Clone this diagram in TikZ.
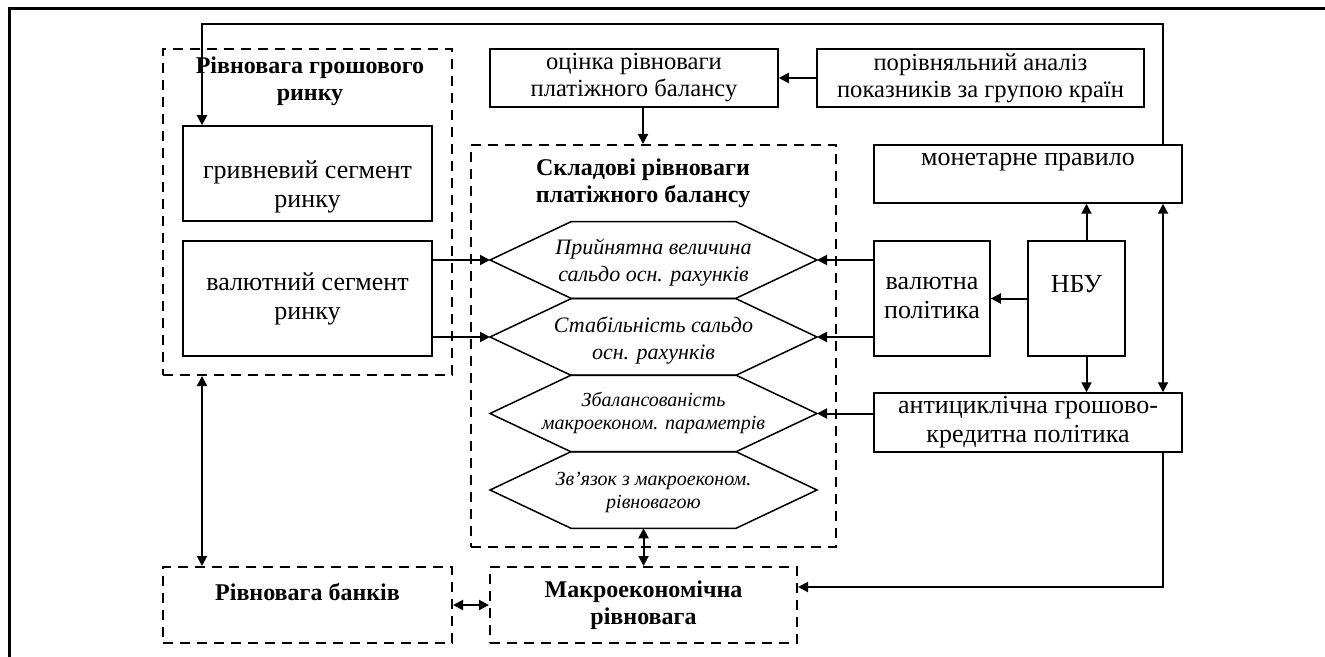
\documentclass[tikz,border=0pt]{standalone}
\usepackage{fontspec}
\setmainfont{Liberation Serif}
\usepackage{tikz}
\usetikzlibrary{arrows.meta,positioning}

\tikzset{
  box/.style={draw,line width=0.75pt,align=center,inner sep=0pt,font=\fontsize{12.3}{13.5}\selectfont},
  bigbox/.style={box,font=\fontsize{13}{14.5}\selectfont},
  bigtxt/.style={align=center,inner sep=0pt,font=\fontsize{13}{14.5}\selectfont},
  dbox/.style={draw,line width=1pt,dash pattern=on 5pt off 3.5pt,inner sep=0pt,align=center,font=\bfseries\fontsize{12}{13.5}\selectfont},
  ttl/.style={align=center,font=\bfseries\fontsize{12}{13.5}\selectfont},
  hx/.style={align=center,font=\itshape\fontsize{11}{13.5}\selectfont},
  hxs/.style={align=center,font=\itshape\fontsize{10}{11.5}\selectfont},
  arr/.style={line width=1pt,-{Triangle[length=5pt,width=5pt]}},
  darr/.style={line width=1pt,{Triangle[length=5pt,width=5pt]}-{Triangle[length=5pt,width=5pt]}}
}

\begin{document}
\begin{tikzpicture}[x=0.5pt,y=-0.5pt]
\useasboundingbox (0,0) rectangle (1325,657);
\draw[line width=1.5pt] (9,657)--(9,9)--(1325,9);

\node[dbox,minimum width=144.5pt,minimum height=163pt] (gmr) at (307.5,212) {};
\node[ttl] (gmrT) at (310,81) {Рівновага грошового\\ринку};
\node[bigbox,minimum width=124.5pt,minimum height=47.5pt] (hryv) at (307.5,173.5) {};
\node[bigtxt] (hryvT) at ([yshift=-6.5pt]hryv.center) {гривневий сегмент\\ринку};
\node[bigbox,minimum width=124.5pt,minimum height=57.5pt] (valseg) at (307.5,298.5) {валютний сегмент\\ринку};

\node[box,minimum width=144pt,minimum height=29pt] (otsinka) at (634,78) {оцінка рівноваги\\платіжного балансу};
\node[box,minimum width=163.5pt,minimum height=29pt] (porivn) at (980.5,78) {порівняльний аналіз\\показників за групою країн};

\node[dbox,minimum width=182.5pt,minimum height=201pt] (skl) at (653.5,346) {};
\node[ttl] (sklT) at (643,183) {Складові рівноваги\\платіжного балансу};

\foreach \y/\n in {260/1,337/2,413.5/3,490/4}
{ \draw[line width=0.75pt] (490,\y)--(571,\y-38.3)--(736,\y-38.3)--(817,\y)--(736,\y+38.3)--(571,\y+38.3)--cycle;
  \coordinate (hexL\n) at (490,\y);
  \coordinate (hexR\n) at (817,\y);
  \coordinate (hexB\n) at (653.5,\y+38.3);
}
\node[hx] (hexA) at (653.5,263) {Прийнятна величина\\сальдо осн. рахунків};
\node[hx] (hexB) at (653.5,340) {Стабільність сальдо\\осн. рахунків};
\node[hxs] (hexC) at (653.5,413) {Збалансованість\\макроеконом. параметрів};
\node[hxs] (hexD) at (653.5,492) {Зв’язок з макроеконом.\\рівновагою};

\node[bigbox,minimum width=154pt,minimum height=29pt] (monet) at (1028,174) {монетарне правило\\\mbox{}};
\node[bigbox,minimum width=58pt,minimum height=57.5pt] (valpol) at (932,298.5) {валютна\\політика};
\node[bigbox,minimum width=48.5pt,minimum height=57.5pt] (nbu) at (1076.5,298.5) {НБУ\\\mbox{}};
\node[bigbox,minimum width=154pt,minimum height=29.5pt] (antyc) at (1028,422.5) {антициклічна грошово-\\кредитна політика};

\node[dbox,minimum width=144.5pt,minimum height=38pt] (bank) at (307.5,605) {Рівновага банків\\\mbox{}};
\node[dbox,minimum width=153.5pt,minimum height=38pt] (makro) at (643.5,605) {Макроекономічна\\рівновага};

\coordinate (loopR) at (1163,24);
\coordinate (loopL) at (202,24);
\coordinate (botR) at (1163,587);
\draw[arr] (loopR |- monet.north)--(loopR)--(loopL)--(loopL |- hryv.north);
\draw[arr] (porivn.west)--(otsinka.east);
\draw[arr] ([xshift=4.5pt]otsinka.south)--([xshift=4.5pt]otsinka.south |- skl.north);
\foreach \n in {1,2}
{ \draw[arr] (valseg.east |- hexL\n)--(hexL\n);
  \draw[arr] (valpol.west |- hexR\n)--(hexR\n);
}
\draw[arr] (antyc.west |- hexR3)--(hexR3);
\draw[arr] (nbu.west)--(valpol.east);
\draw[arr] ([xshift=5pt]nbu.north)--([xshift=5pt]nbu.north |- monet.south);
\draw[arr] ([xshift=5pt]nbu.south)--([xshift=5pt]nbu.south |- antyc.north);
\draw[darr] (loopR |- monet.south)--(loopR |- antyc.north);
\draw[arr] (loopR |- antyc.south)--(botR)--(botR -| makro.east);
\draw[darr] (loopL |- gmr.south)--(loopL |- bank.north);
\draw[darr] (bank.east)--(makro.west);
\draw[darr] (makro.north |- hexB4)--(makro.north);
\end{tikzpicture}
\end{document}
